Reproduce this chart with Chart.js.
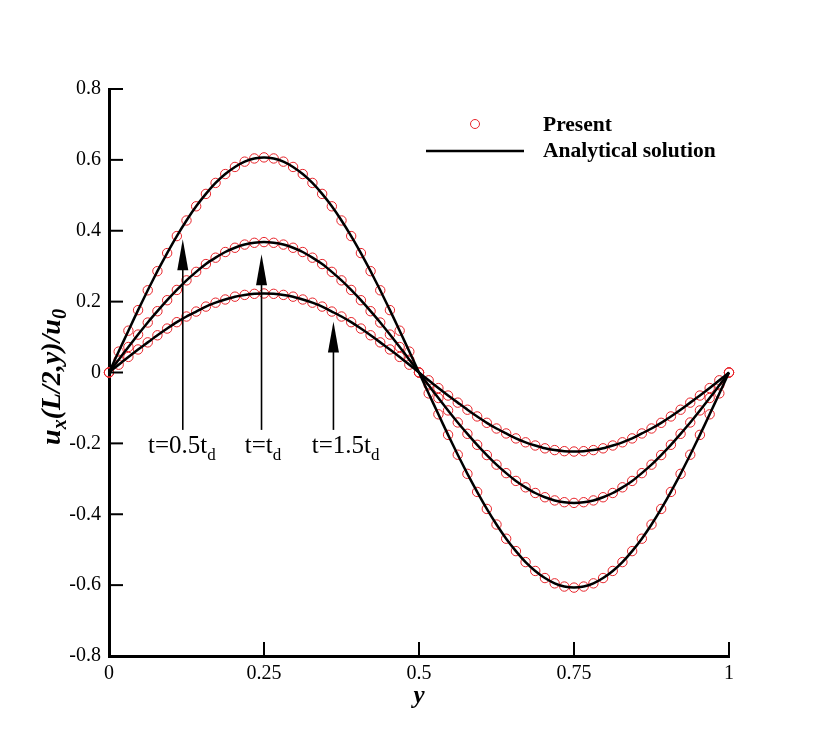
<!DOCTYPE html>
<html>
<head>
<meta charset="utf-8">
<title>Velocity profiles</title>
<script src="https://cdn.jsdelivr.net/npm/chart.js@4.4.1/dist/chart.umd.min.js"></script>
<style>
    body { margin: 0; background: #fff; }
    #wrap { width: 830px; height: 739px; position: relative; }
</style>
</head>
<body>
<div id="wrap"><canvas id="profileChart"></canvas></div>
<script>
// Positions across the channel (y), 65 nodes
const yNodes = [
    0, 0.0156, 0.0313, 0.0469, 0.0625, 0.0781, 0.0938, 0.1094, 0.125, 0.1406, 0.1563, 0.1719, 0.1875, 0.2031, 0.2188, 0.2344, 0.25,
    0.2656, 0.2813, 0.2969, 0.3125, 0.3281, 0.3438, 0.3594, 0.375, 0.3906, 0.4063, 0.4219, 0.4375, 0.4531, 0.4688, 0.4844, 0.5,
    0.5156, 0.5313, 0.5469, 0.5625, 0.5781, 0.5938, 0.6094, 0.625, 0.6406, 0.6563, 0.6719, 0.6875, 0.7031, 0.7188, 0.7344, 0.75,
    0.7656, 0.7813, 0.7969, 0.8125, 0.8281, 0.8438, 0.8594, 0.875, 0.8906, 0.9063, 0.9219, 0.9375, 0.9531, 0.9688, 0.9844, 1
];

// u_x(L/2,y)/u_0 at t = 0.5 td
const uHalf = [
    0, 0.059, 0.118, 0.176, 0.232, 0.286, 0.337, 0.385, 0.429, 0.469, 0.504, 0.535, 0.560, 0.580, 0.595, 0.604, 0.607,
    0.604, 0.595, 0.580, 0.560, 0.535, 0.504, 0.469, 0.429, 0.385, 0.337, 0.286, 0.232, 0.176, 0.118, 0.059, 0,
    -0.059, -0.118, -0.176, -0.232, -0.286, -0.337, -0.385, -0.429, -0.469, -0.504, -0.535, -0.560, -0.580, -0.595, -0.604, -0.607,
    -0.604, -0.595, -0.580, -0.560, -0.535, -0.504, -0.469, -0.429, -0.385, -0.337, -0.286, -0.232, -0.176, -0.118, -0.059, 0
];

// t = td
const uOne = [
    0, 0.036, 0.072, 0.107, 0.141, 0.173, 0.204, 0.233, 0.260, 0.284, 0.306, 0.324, 0.340, 0.352, 0.361, 0.366, 0.368,
    0.366, 0.361, 0.352, 0.340, 0.324, 0.306, 0.284, 0.260, 0.233, 0.204, 0.173, 0.141, 0.107, 0.072, 0.036, 0,
    -0.036, -0.072, -0.107, -0.141, -0.173, -0.204, -0.233, -0.260, -0.284, -0.306, -0.324, -0.340, -0.352, -0.361, -0.366, -0.368,
    -0.366, -0.361, -0.352, -0.340, -0.324, -0.306, -0.284, -0.260, -0.233, -0.204, -0.173, -0.141, -0.107, -0.072, -0.036, 0
];

// t = 1.5 td
const uOneHalf = [
    0, 0.022, 0.044, 0.065, 0.085, 0.105, 0.124, 0.142, 0.158, 0.172, 0.186, 0.197, 0.206, 0.214, 0.219, 0.222, 0.223,
    0.222, 0.219, 0.214, 0.206, 0.197, 0.186, 0.172, 0.158, 0.142, 0.124, 0.105, 0.085, 0.065, 0.044, 0.022, 0,
    -0.022, -0.044, -0.065, -0.085, -0.105, -0.124, -0.142, -0.158, -0.172, -0.186, -0.197, -0.206, -0.214, -0.219, -0.222, -0.223,
    -0.222, -0.219, -0.214, -0.206, -0.197, -0.186, -0.172, -0.158, -0.142, -0.124, -0.105, -0.085, -0.065, -0.044, -0.022, 0
];

// Arrow annotations (data units)
const arrowX = [0.119, 0.246, 0.362];
const arrowTip = [0.376, 0.334, 0.144];
const arrowTail = -0.162;
const arrowText = ['t=0.5t', 't=t', 't=1.5t'];
const arrowTextX = [0.063, 0.219, 0.327];
const arrowTextY = -0.227;

const SERIF = '"Liberation Serif", "Times New Roman", serif';

function toPoints(xs, ys) {
    return xs.map((x, i) => ({ x: x, y: ys[i] }));
}

function presentSet(values) {
    return {
        label: 'Present',
        data: toPoints(yNodes, values),
        showLine: false,
        pointStyle: 'circle',
        pointRadius: 4.7,
        pointBorderWidth: 1,
        pointBorderColor: '#e8242a',
        pointBackgroundColor: 'rgba(0,0,0,0)',
        clip: false,
        order: 2
    };
}

function analyticalSet(values) {
    return {
        label: 'Analytical solution',
        data: toPoints(yNodes, values),
        showLine: true,
        borderColor: '#000',
        borderWidth: 2.5,
        pointRadius: 0,
        tension: 0.2,
        clip: false,
        order: 1
    };
}

// Draw a run of text pieces (with subscripts) starting at x
function drawPieces(ctx, pieces, x, y, align) {
    let total = 0;
    pieces.forEach(p => { ctx.font = p.font; total += ctx.measureText(p.text).width; });
    let cx = align === 'center' ? x - total / 2 : x;
    ctx.textAlign = 'left';
    ctx.textBaseline = 'alphabetic';
    pieces.forEach(p => {
        ctx.font = p.font;
        ctx.fillText(p.text, cx, y + (p.dy || 0));
        cx += ctx.measureText(p.text).width;
    });
}

const decorPlugin = {
    id: 'decor',
    afterDraw(chart) {
        const { ctx, chartArea, scales: { x, y } } = chart;
        ctx.save();
        ctx.strokeStyle = '#000';
        ctx.fillStyle = '#000';

        // inward ticks
        ctx.lineWidth = 2;
        y.ticks.forEach(t => {
            const py = y.getPixelForValue(t.value);
            ctx.beginPath();
            ctx.moveTo(chartArea.left, py);
            ctx.lineTo(chartArea.left + 14, py);
            ctx.stroke();
        });
        x.ticks.forEach(t => {
            const px = x.getPixelForValue(t.value);
            ctx.beginPath();
            ctx.moveTo(px, chartArea.bottom);
            ctx.lineTo(px, chartArea.bottom - 14);
            ctx.stroke();
        });

        // arrows
        arrowX.forEach((ax, i) => {
            const px = x.getPixelForValue(ax);
            const tip = y.getPixelForValue(arrowTip[i]);
            const tail = y.getPixelForValue(arrowTail);
            ctx.lineWidth = 1.6;
            ctx.beginPath();
            ctx.moveTo(px, tail);
            ctx.lineTo(px, tip + 28);
            ctx.stroke();
            ctx.beginPath();
            ctx.moveTo(px, tip);
            ctx.lineTo(px - 5.5, tip + 31);
            ctx.lineTo(px + 5.5, tip + 31);
            ctx.closePath();
            ctx.fill();

            drawPieces(ctx, [
                { text: arrowText[i], font: '25px ' + SERIF },
                { text: 'd', font: '17px ' + SERIF, dy: 7 }
            ], x.getPixelForValue(arrowTextX[i]), y.getPixelForValue(arrowTextY), 'left');
        });

        // legend
        const lx = chartArea.left;
        ctx.lineWidth = 1;
        ctx.strokeStyle = '#e8242a';
        ctx.beginPath();
        ctx.arc(lx + 366, 124, 4.5, 0, Math.PI * 2);
        ctx.stroke();
        ctx.strokeStyle = '#000';
        ctx.lineWidth = 2.5;
        ctx.beginPath();
        ctx.moveTo(lx + 317, 151);
        ctx.lineTo(lx + 415, 151);
        ctx.stroke();
        ctx.font = 'bold 21.5px ' + SERIF;
        ctx.textAlign = 'left';
        ctx.textBaseline = 'alphabetic';
        ctx.fillText('Present', lx + 434, 131);
        ctx.fillText('Analytical solution', lx + 434, 157);

        // x axis title
        drawPieces(ctx, [{ text: 'y', font: 'italic bold 25px ' + SERIF }],
            (chartArea.left + chartArea.right) / 2, 703, 'center');

        // y axis title (rotated)
        ctx.translate(60, 377);
        ctx.rotate(-Math.PI / 2);
        drawPieces(ctx, [
            { text: 'u', font: 'italic bold 28px ' + SERIF },
            { text: 'x', font: 'italic bold 20px ' + SERIF, dy: 6 },
            { text: '(L/2,y)/u', font: 'italic bold 28px ' + SERIF },
            { text: '0', font: 'italic bold 20px ' + SERIF, dy: 6 }
        ], 0, 0, 'center');

        ctx.restore();
    }
};

const ctx = document.getElementById('profileChart').getContext('2d');
const profileChart = new Chart(ctx, {
    type: 'scatter',
    data: {
        datasets: [
            analyticalSet(uHalf),
            analyticalSet(uOne),
            analyticalSet(uOneHalf),
            presentSet(uHalf),
            presentSet(uOne),
            presentSet(uOneHalf)
        ]
    },
    options: {
        responsive: true,
        maintainAspectRatio: false,
        animation: false,
        layout: { padding: { top: 89, right: 101, left: 0, bottom: 0 } },
        plugins: {
            legend: { display: false },
            tooltip: { enabled: false }
        },
        scales: {
            x: {
                type: 'linear',
                min: 0,
                max: 1,
                afterFit: (scale) => { scale.height = 83; },
                grid: { drawOnChartArea: false, drawTicks: false },
                border: { display: true, color: '#000', width: 3 },
                ticks: {
                    stepSize: 0.25,
                    padding: 6,
                    color: '#000',
                    font: { family: SERIF, size: 20 },
                    callback: (value) => String(+value.toFixed(2))
                }
            },
            y: {
                min: -0.8,
                max: 0.8,
                afterFit: (scale) => { scale.width = 109; },
                grid: { drawOnChartArea: false, drawTicks: false },
                border: { display: true, color: '#000', width: 3 },
                ticks: {
                    stepSize: 0.2,
                    padding: 8,
                    color: '#000',
                    font: { family: SERIF, size: 20 },
                    callback: (value) => String(+value.toFixed(1))
                }
            }
        }
    },
    plugins: [decorPlugin]
});
</script>
</body>
</html>
